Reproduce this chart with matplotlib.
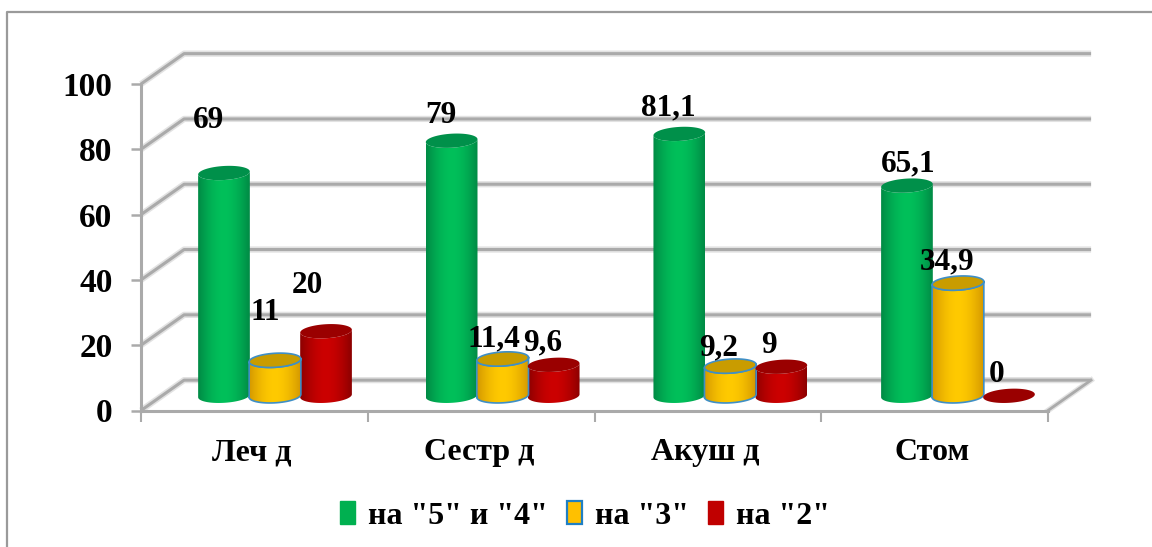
import numpy as np
import matplotlib
matplotlib.use("Agg")
import matplotlib.pyplot as plt
from matplotlib.lines import Line2D
from matplotlib.patches import Patch, PathPatch
from matplotlib.path import Path

plt.rcParams['font.family'] = ['Liberation Serif', 'DejaVu Serif']
plt.rcParams['font.weight'] = 'bold'

categories = ['Леч д', 'Сестр д', 'Акуш д', 'Стом']
series_names = ['на "5" и "4"', 'на "3"', 'на "2"']
excellent = [69, 79, 81.1, 65.1]
average = [11, 11.4, 9.2, 34.9]
poor = [20, 9.6, 9, 0]
value_labels = [['69', '79', '81,1', '65,1'],
                ['11', '11,4', '9,2', '34,9'],
                ['20', '9,6', '9', '0']]
y_ticks = [0, 20, 40, 60, 80, 100]

# label shift from the top of its cylinder, pixels
label_shift = [[(-15, 53), (-11, 25), (-11, 26), (1, 22)],
               [(-10, 48), (-9, 20), (-12, 18), (-11, 21)],
               [(-19, 46), (-11, 22), (-12, 21), (-12, 21)]]

W, H = 1152, 547
DX, DY = 0.19, 9.3      # depth of the 3d box
BASE = 4.5              # cylinders stand in the middle of the floor
K = 0.989
STEP = 1.004
BAR_W = 0.228
RY = 2.15               # half height of the ellipse
SHEAR = 0.45

edge_col = ['#008a45', '#d49800', '#8c0000']
mid_col = ['#00c05a', '#ffca00', '#cc0000']
top_col = ['#00904a', '#c99c00', '#9a0000']
outline = [None, '#3f8fc6', None]
wall = '#aaaaaa'
wall_soft = '#e2e2e2'


def ellipse_xy(cx, cy, a, t):
    return cx + a * np.cos(t), cy + RY * np.sin(t) + SHEAR * np.cos(t)


def gradient(c1, c2):
    c1 = np.array(matplotlib.colors.to_rgb(c1))
    c2 = np.array(matplotlib.colors.to_rgb(c2))
    s = np.abs(np.linspace(-1, 1, 64)) ** 1.8
    return (c2 + (c1 - c2) * s[:, None])[None, :, :]


def cylinder(ax, cx, v, n):
    a = BAR_W / 2
    top = BASE + v * K
    t = np.linspace(np.pi, 2 * np.pi, 40)
    bx, by = ellipse_xy(cx, BASE, a, t)
    tx, ty = ellipse_xy(cx, top, a, t[::-1])
    xs = np.r_[bx, tx, bx[0]]
    ys = np.r_[by, ty, by[0]]
    body = Path(np.c_[xs, ys])
    z = 3 + cx * 0.01
    if v > 0:
        im = ax.imshow(gradient(edge_col[n], mid_col[n]), extent=[cx - a, cx + a, BASE - 4, top + 4],
                       aspect='auto', interpolation='bilinear', zorder=z, clip_on=True)
        im.set_clip_path(PathPatch(body, transform=ax.transData))
        if outline[n]:
            ax.plot(xs, ys, color=outline[n], lw=1.2, zorder=z + 0.01, clip_on=False)
    t = np.linspace(0, 2 * np.pi, 80)
    ex, ey = ellipse_xy(cx, top, a, t)
    ax.fill(ex, ey, color=top_col[n], zorder=z + 0.02, clip_on=False, lw=0)
    if outline[n]:
        ax.plot(ex, ey, color=outline[n], lw=1.2, zorder=z + 0.03, clip_on=False)


fig = plt.figure(figsize=(W / 100, H / 100), dpi=100)
# frame: only the top and left edges are visible in the picture
fig.add_artist(Line2D([7 / W, 7 / W, 1], [0, 1 - 12 / H, 1 - 12 / H], transform=fig.transFigure,
                      color='#9a9a9a', lw=1.6))

x0, x1, y0, y1 = 141, 1048, 410.5, 84
ax = fig.add_axes([x0 / W, 1 - y0 / H, (x1 - x0) / W, (y0 - y1) / H])
ax.set_facecolor('none')

# back wall and side wall grid
for g in y_ticks:
    xs = [0, DX, 4 + DX]
    ys = [g, g + DY, g + DY]
    ax.plot(xs, ys, color=wall_soft, lw=4.5, clip_on=False, zorder=1, solid_capstyle='butt')
    ax.plot(xs, ys, color=wall, lw=2.2, clip_on=False, zorder=1.1, solid_capstyle='butt')

# floor
fx = [4, 4 + DX]
fy = [0, DY]
ax.plot(fx, fy, color=wall_soft, lw=4, clip_on=False, zorder=1)
ax.plot(fx, fy, color=wall, lw=2.0, clip_on=False, zorder=1.1)

for n, values in enumerate([excellent, average, poor]):
    for i, v in enumerate(values):
        cx = i * STEP + 0.366 + 0.225 * n
        cylinder(ax, cx, v, n)
        ax.annotate(value_labels[n][i], xy=(cx, BASE + v * K),
                    xytext=label_shift[n][i], textcoords='offset pixels',
                    ha='center', va='center', fontsize=22.5, fontweight='bold',
                    zorder=10, annotation_clip=False)

ax.set_xlim(0, 4)
ax.set_ylim(0, 100)
ax.set_yticks(y_ticks)
ax.set_xticks(range(5))
ax.set_xticklabels([])
ax.set_xticks(np.arange(4) + 0.49, labels=categories, minor=True)
ax.tick_params(axis='y', length=7, width=1.8, color=wall, labelsize=24, pad=13.5)
ax.tick_params(axis='x', which='major', length=8, width=1.5, color=wall)
ax.tick_params(axis='x', which='minor', length=0, labelsize=23, pad=20)
for lab in ax.get_yticklabels() + ax.get_xticklabels(minor=True):
    lab.set_fontweight('bold')
for s in ['top', 'right']:
    ax.spines[s].set_visible(False)
for s in ['left', 'bottom']:
    ax.spines[s].set_color(wall)
    ax.spines[s].set_linewidth(2.2)

handles = [Patch(fc='#00b050', ec='#00b050'),
           Patch(fc='#ffc000', ec='#1f7fc4', lw=1.6),
           Patch(fc='#c00000', ec='#c00000')]
fig.legend(handles, series_names, loc='center', bbox_to_anchor=(585 / W, 1 - 516 / H), ncol=3,
           frameon=False, handlelength=0.48, handleheight=0.7, handletextpad=0.4,
           columnspacing=0.6, prop={'weight': 'bold', 'size': 23})

fig.savefig('out.png', dpi=100)
